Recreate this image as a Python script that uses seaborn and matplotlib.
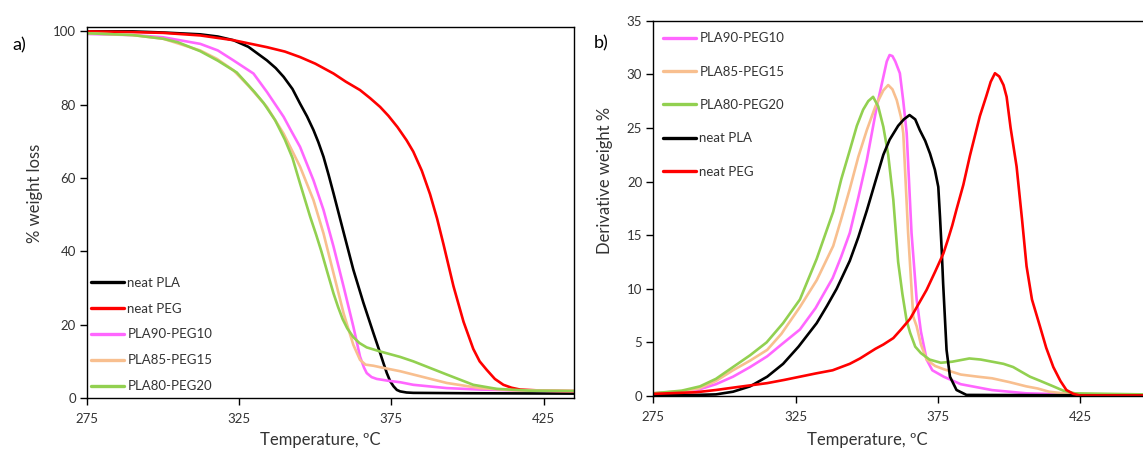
import matplotlib
matplotlib.use("Agg")
import matplotlib.pyplot as plt
import seaborn as sns
import pandas as pd

# ---------------- data: TGA (panel a) ----------------
T_pla_a = [275, 290, 300, 312.2, 318, 323.1, 328, 334.1, 337, 339.6, 342.5, 345, 347.3, 349.4, 351, 352.7, 354.4, 356,
           359.3, 362.5, 365.8, 369.1, 371.3, 372.4, 373.5, 374.6, 375.7, 376.8, 377.9, 380, 382.2, 400, 435]
W_pla_a = [100, 100, 99.7, 99.2, 98.6, 97.6, 95.8, 92.1, 90, 87.6, 84.3, 80.3, 76.8, 73.1, 69.8, 65.8, 60.8, 55.8,
           45.2, 35.0, 26.0, 17.7, 12.3, 9.5, 6.8, 4.6, 3.2, 2.2, 1.8, 1.5, 1.4, 1.3, 1.2]

T_peg_a = [275, 290, 300, 312.2, 323.1, 334.1, 340, 345, 350, 356, 360, 364.7, 368, 371.3, 374, 377, 380, 382.2,
           385, 387.7, 390, 392.1, 395.4, 398.7, 401.9, 404, 406.3, 409, 411.8, 414.5, 417.3, 425, 435]
W_peg_a = [100, 99.8, 99.6, 98.9, 97.6, 95.7, 94.5, 93.0, 91.2, 88.5, 86.3, 84.0, 81.8, 79.4, 77.0, 73.9, 70.3, 67.2,
           62.0, 55.6, 49.0, 42.0, 30.5, 20.8, 13.4, 10, 7.7, 5.2, 3.6, 2.8, 2.3, 2.0, 1.8]

T_p90_a = [275, 290, 300, 312.2, 318, 323.1, 329.7, 334.1, 339.6, 342, 345, 349.4, 352.7, 356, 359.3, 362.5, 364.7,
           366, 366.9, 368.5, 370.2, 374, 377.9, 382.2, 393.2, 404.1, 420, 435]
W_p90_a = [99.3, 99, 98.4, 96.6, 94.8, 92.1, 88.5, 83.5, 76.7, 73, 68.5, 59.4, 51.3, 41.3, 30.4, 19.5, 11.3,
           8.3, 6.8, 5.7, 5.2, 4.7, 4.3, 3.6, 2.7, 2.3, 2.0, 1.9]

T_p85_a = [275, 290, 300, 312.2, 317.7, 323.1, 328, 334.1, 339.6, 345, 349.4, 352.7, 356, 359.3, 361, 362.5, 364.7,
           366.5, 369.1, 371.3, 377.9, 382.2, 393.2, 404.1, 415.1, 435]
W_p85_a = [99.5, 99, 98, 94.8, 92.5, 89.4, 85.2, 79.4, 72.1, 63.1, 54, 44.9, 34, 23.1, 18.5, 14.5, 10.4,
           9.1, 8.8, 8.4, 7.3, 6.4, 4.1, 2.7, 2.1, 2.0]

T_p80_a = [275, 290, 300, 305, 312.2, 318, 324.2, 330, 333, 336.8, 340, 342.5, 345, 348.3, 350.3, 352, 354, 356,
           357.5, 359, 360.5, 362.5, 364.5, 366.9, 371.3, 377.9, 382.2, 393.2, 401.9, 409.6, 420.5, 435]
W_p80_a = [99.5, 99, 98, 97, 94.6, 92, 88.8, 83.5, 80.5, 75.8, 70.5, 65.5, 58.5, 49.5, 44.5, 40, 34.2, 28.5,
           24.8, 21.5, 19.0, 16.6, 15.0, 13.8, 12.7, 11.2, 10.0, 6.4, 3.6, 2.5, 2.0, 1.9]

# ---------------- data: DTG (panel b) ----------------
T_p90_b = [275, 285, 291, 297, 303, 309, 315, 320, 326.5, 332, 338, 341, 344, 347, 350, 353.5, 356, 357, 358, 359,
           360, 361.6, 362.8, 364, 365.7, 367.5, 369, 371, 373, 377, 383, 394, 406, 420, 447]
D_p90_b = [0.25, 0.4, 0.6, 1.1, 1.8, 2.7, 3.7, 4.8, 6.2, 8.2, 11, 13, 15.2, 18.5, 22, 27, 30, 31.2, 31.8, 31.7,
           31.2, 30.1, 27.5, 24.5, 15.2, 9, 6, 3.4, 2.4, 1.8, 1.1, 0.55, 0.25, 0.15, 0.1]

T_p85_b = [275, 285, 291, 297, 303, 309, 315, 320, 326.5, 332.4, 338.2, 341, 344, 347, 350, 353, 355.8, 357.5, 359,
           360.5, 362, 362.8, 364.5, 366.3, 367.5, 369, 371, 374, 377, 383, 389, 394, 400, 406, 410, 414, 419, 425, 447]
D_p85_b = [0.25, 0.45, 0.7, 1.4, 2.4, 3.3, 4.3, 5.8, 8.3, 10.8, 14, 16.5, 19.3, 22.3, 24.8, 27, 28.5, 29, 28.6,
           27.6, 26, 24.5, 15.2, 7.4, 6.5, 4.8, 3.4, 2.8, 2.5, 2.0, 1.8, 1.65, 1.3, 0.9, 0.7, 0.4, 0.25, 0.15, 0.1]

T_p80_b = [275, 285, 291.4, 297, 303, 309, 314.8, 320.6, 326.5, 332.4, 338.2, 341, 344, 346.5, 348.7, 350.5, 352.2,
           354, 355.8, 357.5, 359.3, 361, 362.5, 364, 365.2, 367, 369, 372, 376, 380, 384, 386, 390, 394, 398, 401.4,
           404, 407.3, 411, 415.5, 419, 423, 447]
D_p80_b = [0.25, 0.5, 0.9, 1.6, 2.7, 3.8, 5.0, 6.8, 9.0, 12.8, 17.2, 20.2, 22.9, 25.2, 26.7, 27.5, 27.9,
           27, 25.1, 22.5, 18.3, 12.5, 9.5, 7.0, 5.9, 4.6, 4.0, 3.4, 3.1, 3.2, 3.4, 3.5, 3.4, 3.2, 3.0, 2.7,
           2.3, 1.8, 1.4, 0.9, 0.5, 0.25, 0.15]

T_pla_b = [275, 290, 297, 303, 309, 315, 320.6, 326, 332.4, 336, 339.4, 344, 347, 350, 353, 355.8, 358, 361, 363,
           365, 367, 368.6, 370.5, 372.2, 373.9, 375.1, 375.7, 376.3, 376.8, 377.4, 378, 379.2, 381.5, 385, 447]
D_pla_b = [0.1, 0.1, 0.15, 0.4, 0.9, 1.8, 3.0, 4.6, 6.8, 8.4, 10, 12.6, 14.8, 17.3, 20, 22.5, 23.9, 25.2, 25.8,
           26.2, 25.8, 24.8, 23.8, 22.6, 21.1, 19.5, 16.7, 13.6, 10.5, 7.4, 4.3, 1.8, 0.56, 0.1, 0.05]

T_peg_b = [275, 290, 297, 305, 315, 321, 326.5, 332, 338, 344, 347.6, 350, 353, 355.8, 359.3, 362, 365.2, 368, 371,
           374, 376.9, 378.5, 380, 381.5, 383.9, 386.2, 389.7, 392, 393.5, 395, 396.5, 398, 399.1, 400.5, 402.6, 404.5,
           406.1, 408, 410.8, 413, 415.5, 418, 420.1, 422.5, 424.8, 447]
D_peg_b = [0.2, 0.35, 0.56, 0.85, 1.2, 1.5, 1.8, 2.1, 2.4, 3.0, 3.5, 3.9, 4.4, 4.8, 5.4, 6.2, 7.2, 8.5, 9.9,
           11.6, 13.3, 14.6, 15.9, 17.4, 19.7, 22.4, 26.1, 28.0, 29.3, 30.1, 29.8, 29, 27.9, 25, 21.4, 16.5,
           12.1, 9, 6.5, 4.5, 2.7, 1.4, 0.56, 0.2, 0.05, 0.05]

labels_a = ["neat PLA", "neat PEG", "PLA90-PEG10", "PLA85-PEG15", "PLA80-PEG20"]
labels_b = ["PLA90-PEG10", "PLA85-PEG15", "PLA80-PEG20", "neat PLA", "neat PEG"]
colors = {"neat PLA": "#000000", "neat PEG": "#FF0000", "PLA90-PEG10": "#FF66FF",
          "PLA85-PEG15": "#F8BF8F", "PLA80-PEG20": "#92D050"}
xticks = [275, 325, 375, 425]
yticks_a = [0, 20, 40, 60, 80, 100]
yticks_b = [0, 5, 10, 15, 20, 25, 30, 35]

series_a = {"neat PLA": (T_pla_a, W_pla_a), "neat PEG": (T_peg_a, W_peg_a),
            "PLA90-PEG10": (T_p90_a, W_p90_a), "PLA85-PEG15": (T_p85_a, W_p85_a),
            "PLA80-PEG20": (T_p80_a, W_p80_a)}
series_b = {"PLA90-PEG10": (T_p90_b, D_p90_b), "PLA85-PEG15": (T_p85_b, D_p85_b),
            "PLA80-PEG20": (T_p80_b, D_p80_b), "neat PLA": (T_pla_b, D_pla_b),
            "neat PEG": (T_peg_b, D_peg_b)}

# ---------------- style ----------------
sns.set_theme(style="ticks")
plt.rcParams["font.family"] = ["Lato", "DejaVu Sans"]
TXT = "#333333"

W, H = 1143, 450
fig = plt.figure(figsize=(W / 100, H / 100), dpi=100)

def fx(px):
    return px / W

def fy(py):
    return 1 - py / H

ax1 = fig.add_axes([fx(87), fy(398), fx(574) - fx(87), fy(27) - fy(398)])
ax2 = fig.add_axes([fx(653.3), fy(396), 1 - fx(653.3), fy(20.7) - fy(396)])

lw = 1.9
for lab in labels_a:
    t, w = series_a[lab]
    df = pd.DataFrame({"T": t, "v": w})
    sns.lineplot(data=df, x="T", y="v", ax=ax1, color=colors[lab], lw=lw,
                 label=lab, sort=False, solid_joinstyle="round")
for lab in labels_b:
    t, d = series_b[lab]
    df = pd.DataFrame({"T": t, "v": d})
    sns.lineplot(data=df, x="T", y="v", ax=ax2, color=colors[lab], lw=lw,
                 label=lab, sort=False, solid_joinstyle="round")

ax1.set_xlim(275, 435)
ax1.set_ylim(0, 101.2)
ax2.set_xlim(275, 447)
ax2.set_ylim(0, 35)
ax1.set_xticks(xticks)
ax2.set_xticks(xticks)
ax1.set_yticks(yticks_a)
ax2.set_yticks(yticks_b)

for ax in (ax1, ax2):
    ax.set_xlabel("")
    ax.set_ylabel("")
    for s in ax.spines.values():
        s.set_color("black")
        s.set_linewidth(1.0)
        s.set_visible(True)
    ax.tick_params(axis="both", direction="out", length=5, width=1.0, color="black",
                   labelsize=9.5, labelcolor=TXT, pad=3)
    ax.tick_params(axis="x", pad=6)
ax2.spines["right"].set_visible(False)

# legends
leg1 = ax1.legend(loc="center left", bbox_to_anchor=(fx(91), fy(334.5)),
                  bbox_transform=fig.transFigure, frameon=False, fontsize=9.5,
                  handlelength=2.5, handletextpad=0.25, labelspacing=1.05,
                  borderpad=0, borderaxespad=0)
leg2 = ax2.legend(loc="center left", bbox_to_anchor=(fx(663), fy(105)),
                  bbox_transform=fig.transFigure, frameon=False, fontsize=9.5,
                  handlelength=2.5, handletextpad=0.25, labelspacing=1.62,
                  borderpad=0, borderaxespad=0)
for leg in (leg1, leg2):
    for t in leg.get_texts():
        t.set_color(TXT)
    for l in leg.get_lines():
        l.set_linewidth(2.4)

# axis labels and panel letters
fig.text(fx(320), fy(440), "Temperature, ºC", ha="center", va="center", fontsize=12, color=TXT)
fig.text(fx(867), fy(440), "Temperature, ºC", ha="center", va="center", fontsize=12, color=TXT)
fig.text(fx(35), fy(193), "% weight loss", ha="center", va="center", rotation=90, fontsize=12, color=TXT)
fig.text(fx(605), fy(180), "Derivative weight %", ha="center", va="center", rotation=90, fontsize=12, color=TXT)
fig.text(fx(12), fy(45), "a)", ha="left", va="center", fontsize=13, color="black")
fig.text(fx(594), fy(43), "b)", ha="left", va="center", fontsize=13, color="black")

fig.savefig("out.png", dpi=100)
